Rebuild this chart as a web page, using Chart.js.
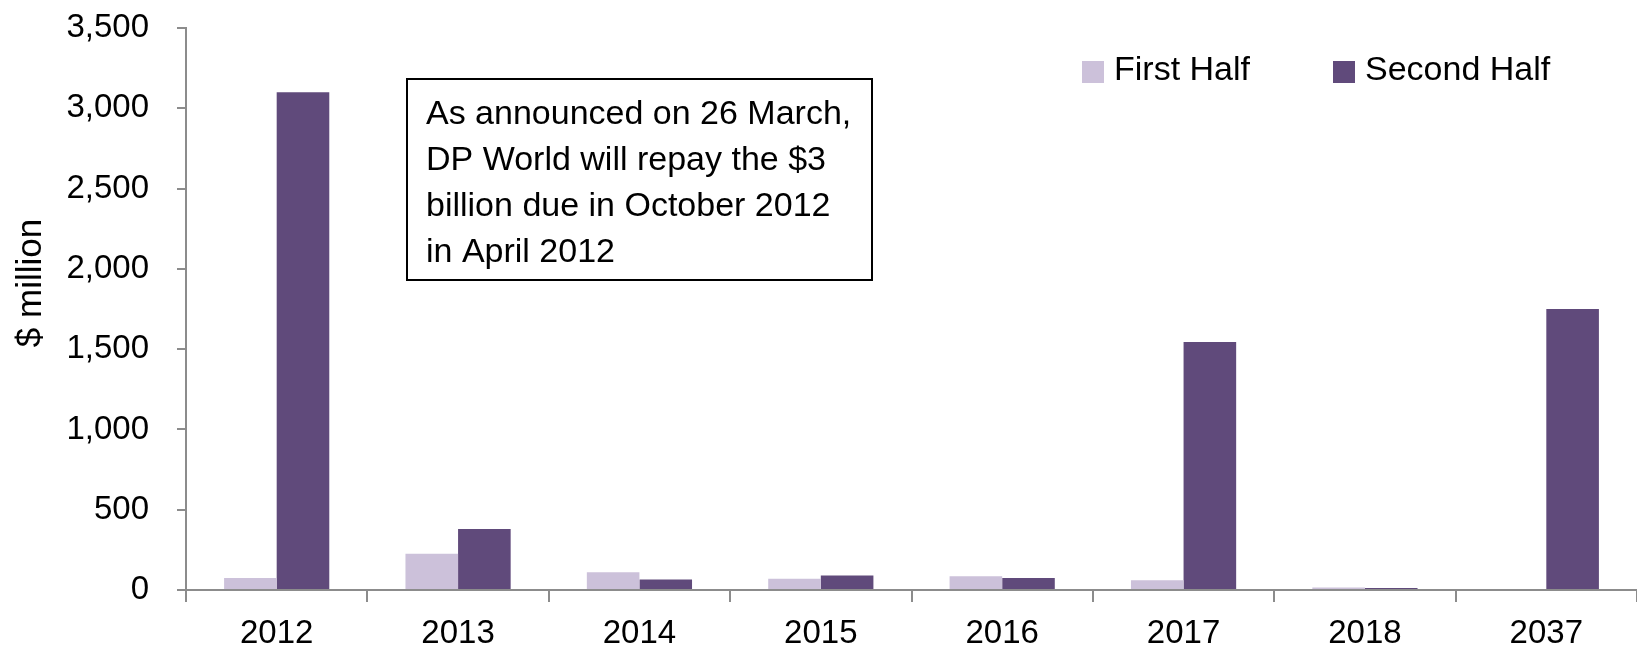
<!DOCTYPE html>
<html>
<head>
<meta charset="utf-8">
<script src="https://cdn.jsdelivr.net/npm/chart.js@4.4.1/dist/chart.umd.min.js"></script>
<style>
  html, body { margin: 0; padding: 0; background: #fff; }
  #wrap { position: relative; width: 1637px; height: 651px; }
</style>
</head>
<body>
<div id="wrap"><canvas id="debtChart" width="1637" height="651"></canvas></div>
<script>
// Data
const years = ["2012", "2013", "2014", "2015", "2016", "2017", "2018", "2037"];
const firstHalf = [75, 225, 110, 70, 85, 60, 15, 0];
const secondHalf = [3100, 380, 65, 90, 75, 1545, 12, 1750];
const yTicks = [0, 500, 1000, 1500, 2000, 2500, 3000, 3500];
const seriesNames = ["First Half", "Second Half"];
const seriesColors = ["#CCC1DA", "#604A7B"];
const yTitle = "$ million";
const noteLines = [
  "As announced on 26 March,",
  "DP World will repay the $3",
  "billion due in October 2012",
  "in April 2012"
];

const font = "'Liberation Sans', Arial, sans-serif";
const axisGrey = "#8C8C8C";

// legend, axis title and note box drawn on the canvas
const overlay = {
  id: "overlay",
  afterDraw(chart) {
    const ctx = chart.ctx;
    ctx.save();
    ctx.font = "34px " + font;
    ctx.textBaseline = "middle";

    // legend
    const legendX = [1082, 1333];
    seriesNames.forEach((name, i) => {
      ctx.fillStyle = seriesColors[i];
      ctx.fillRect(legendX[i], 61, 22, 22);
      ctx.fillStyle = "#000";
      ctx.fillText(name, legendX[i] + 32, 71);
    });

    // y axis title (sits a bit above the axis middle in the original)
    ctx.save();
    ctx.translate(31, 283);
    ctx.rotate(-Math.PI / 2);
    ctx.textAlign = "center";
    ctx.font = "35px " + font;
    ctx.fillText(yTitle, 0, 0);
    ctx.restore();

    // note box
    ctx.fillStyle = "#fff";
    ctx.fillRect(407, 79, 465, 201);
    ctx.strokeStyle = "#000";
    ctx.lineWidth = 2;
    ctx.strokeRect(407, 79, 465, 201);
    ctx.fillStyle = "#000";
    noteLines.forEach((line, i) => {
      ctx.fillText(line, 426, 115 + i * 46);
    });
    ctx.restore();
  }
};

new Chart(document.getElementById("debtChart"), {
  type: "bar",
  data: {
    labels: years,
    datasets: [
      { label: seriesNames[0], data: firstHalf, backgroundColor: seriesColors[0] },
      { label: seriesNames[1], data: secondHalf, backgroundColor: seriesColors[1] }
    ]
  },
  options: {
    responsive: false,
    animation: false,
    categoryPercentage: 0.58,
    barPercentage: 1.0,
    layout: { padding: { top: 28, right: 0, left: 0, bottom: 0 } },
    plugins: {
      legend: { display: false },
      tooltip: { enabled: false }
    },
    scales: {
      x: {
        grid: {
          drawOnChartArea: false,
          drawTicks: true,
          tickLength: 12,
          color: axisGrey,
          lineWidth: 2
        },
        border: { color: axisGrey, width: 2 },
        ticks: {
          color: "#000",
          padding: 12,
          font: { family: font, size: 33 },
          maxRotation: 0
        },
        afterFit(scale) { scale.height = 61; }
      },
      y: {
        min: 0,
        max: 3500,
        afterBuildTicks(scale) {
          scale.ticks = yTicks.map(v => ({ value: v }));
        },
        grid: {
          drawOnChartArea: false,
          drawTicks: true,
          tickLength: 9,
          color: axisGrey,
          lineWidth: 2
        },
        border: { color: axisGrey, width: 2 },
        ticks: {
          color: "#000",
          padding: 28,
          font: { family: font, size: 33 },
          callback: v => v.toLocaleString("en-US")
        },
        afterFit(scale) {
          scale.width = 186;
          scale.paddingTop = 0;
          scale.paddingBottom = 0;
        }
      }
    }
  },
  plugins: [overlay]
});
</script>
</body>
</html>
